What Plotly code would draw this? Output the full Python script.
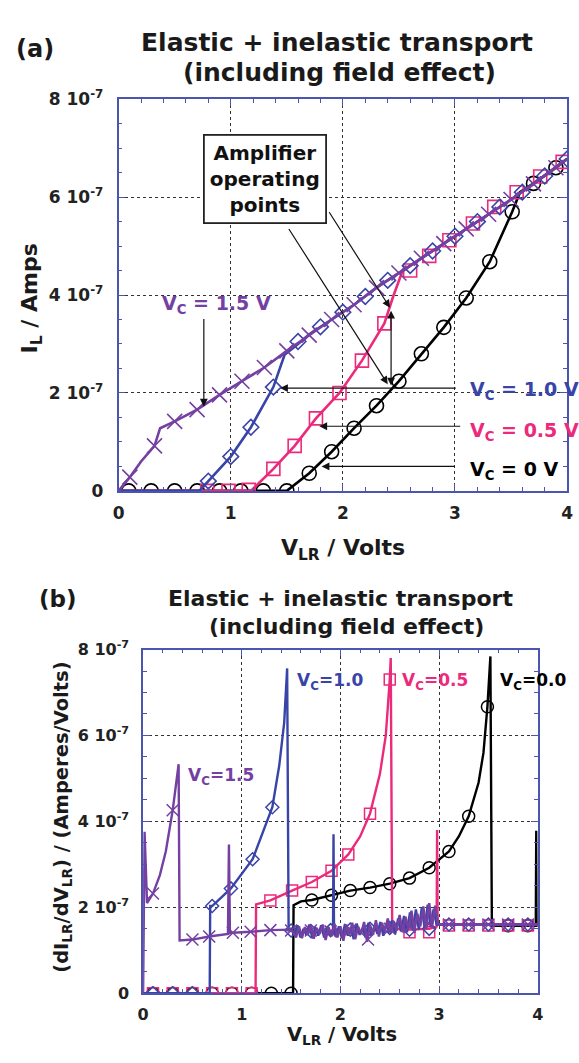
import plotly.graph_objects as go
import numpy as np

U = 1e-7  # all current / conductance values below are in units of 1e-7

# ---------------- panel (a): I_L (1e-7 A) vs V_LR (V) ----------------
a15_x = [0, 0.1, 0.2, 0.32, 0.37, 0.5, 0.7, 0.9, 1.1, 1.3, 1.5, 1.7, 1.9, 2.1, 2.3, 2.5, 2.7, 2.9, 3.1, 3.3, 3.5, 3.7, 3.9, 4.0]
a15_y = [0, 0.28, 0.6, 0.92, 1.28, 1.42, 1.66, 1.96, 2.24, 2.52, 2.86, 3.18, 3.5, 3.8, 4.15, 4.45, 4.75, 5.05, 5.35, 5.65, 5.95, 6.27, 6.6, 6.78]
a15_mx = [0.1, 0.32, 0.5, 0.7, 0.9, 1.1, 1.3, 1.5, 1.7, 1.9, 2.1, 2.3, 2.5, 2.7, 2.9, 3.1, 3.3, 3.5, 3.7, 3.9]
a15_my = [0.28, 0.92, 1.42, 1.66, 1.96, 2.24, 2.52, 2.86, 3.18, 3.5, 3.8, 4.15, 4.45, 4.75, 5.05, 5.35, 5.65, 5.95, 6.27, 6.6]

a10_x = [0, 0.72, 0.8, 1.0, 1.18, 1.38, 1.48, 1.59, 1.7, 1.9, 2.1, 2.3, 2.5, 2.7, 2.9, 3.1, 3.3, 3.5, 3.7, 3.9, 4.0]
a10_y = [0, 0, 0.2, 0.7, 1.3, 2.12, 2.78, 2.98, 3.2, 3.5, 3.8, 4.15, 4.45, 4.75, 5.05, 5.35, 5.65, 5.95, 6.27, 6.6, 6.78]
a10_mx = [0.8, 1.0, 1.18, 1.38, 1.6, 1.8, 2.0, 2.2, 2.4, 2.6, 2.8, 3.0, 3.2, 3.4, 3.6, 3.8, 4.0]
a10_my = [0.2, 0.7, 1.3, 2.12, 3.05, 3.35, 3.65, 3.97, 4.3, 4.6, 4.9, 5.2, 5.5, 5.8, 6.1, 6.43, 6.78]

a05_x = [0, 1.18, 1.38, 1.57, 1.76, 1.97, 2.17, 2.37, 2.45, 2.53, 2.7, 2.9, 3.1, 3.3, 3.5, 3.7, 3.9, 4.0]
a05_y = [0, 0, 0.45, 0.92, 1.48, 2.0, 2.66, 3.42, 3.98, 4.48, 4.75, 5.05, 5.35, 5.65, 5.95, 6.27, 6.6, 6.78]
a05_mx = [0.79, 0.98, 1.16, 1.38, 1.57, 1.76, 1.97, 2.17, 2.37, 2.6, 2.77, 2.95, 3.16, 3.35, 3.55, 3.76, 3.96]
a05_my = [0, 0, 0.02, 0.45, 0.92, 1.48, 2.0, 2.66, 3.42, 4.5, 4.8, 5.12, 5.46, 5.8, 6.1, 6.42, 6.72]

a00_x = [0, 1.5, 1.7, 1.9, 2.1, 2.3, 2.5, 2.7, 2.9, 3.1, 3.31, 3.51, 3.58, 3.7, 3.9, 4.0]
a00_y = [0, 0, 0.36, 0.8, 1.28, 1.74, 2.24, 2.8, 3.34, 3.94, 4.68, 5.7, 6.1, 6.28, 6.6, 6.78]
a00_mx = [0.09, 0.29, 0.5, 0.7, 0.9, 1.09, 1.29, 1.5, 1.7, 1.9, 2.1, 2.3, 2.5, 2.7, 2.9, 3.1, 3.31, 3.51, 3.7, 3.9]
a00_my = [0, 0, 0, 0, 0, 0, 0, 0, 0.36, 0.8, 1.28, 1.74, 2.24, 2.8, 3.34, 3.94, 4.68, 5.7, 6.28, 6.6]

# ---------------- panel (b): dI/dV (1e-7 A/V) vs V_LR (V) ----------------
b15_x = [0, 0.015, 0.04, 0.1, 0.17, 0.23, 0.3, 0.36, 0.37, 0.5, 0.67, 0.86, 0.87, 0.88, 0.91, 1.09, 1.29, 1.49,
         1.52, 1.55, 1.58, 1.61, 1.64, 1.67, 1.70, 1.73, 1.76, 1.79, 1.82, 1.85, 1.88, 1.91, 1.94, 1.97, 2.00,
         2.03, 2.06, 2.09, 2.12, 2.15, 2.18, 2.21, 2.24, 2.27, 2.30, 2.33, 2.36, 2.39, 2.42, 2.45, 2.48, 2.51,
         2.54, 2.57, 2.60, 2.63, 2.66, 2.69, 2.72, 2.75, 2.78, 2.81, 2.84, 2.87, 2.90, 2.93, 2.96, 2.99, 3.0, 4.0]
b15_y = [0, 3.76, 2.1, 2.32, 2.75, 3.3, 4.26, 5.33, 1.23, 1.25, 1.32, 1.38, 3.46, 1.40, 1.41, 1.43, 1.47, 1.48,
         1.42, 1.30, 1.56, 1.28, 1.54, 1.36, 1.60, 1.27, 1.52, 1.38, 1.60, 1.24, 1.54, 1.33, 1.62, 1.30, 1.56,
         1.22, 1.60, 1.35, 1.64, 1.26, 1.55, 1.38, 1.66, 1.20, 1.60, 1.36, 1.70, 1.32, 1.64, 1.44, 1.74, 1.40,
         1.68, 1.46, 1.82, 1.42, 1.78, 1.50, 1.92, 1.45, 1.85, 1.56, 2.02, 1.50, 2.10, 1.55, 2.04, 1.62, 1.6, 1.6]
b15_mx = [0.1, 0.3, 0.5, 0.67, 0.91, 1.09, 1.29, 1.5, 1.7, 1.9, 2.1, 2.28, 2.5, 2.7, 2.9, 3.1, 3.3, 3.5, 3.7, 3.9]
b15_my = [2.32, 4.26, 1.25, 1.32, 1.41, 1.43, 1.47, 1.46, 1.46, 1.44, 1.48, 1.25, 1.5, 1.55, 1.62, 1.6, 1.6, 1.6, 1.6, 1.6]

b10_x = [0, 0.675, 0.68, 0.7, 0.89, 1.11, 1.31, 1.38, 1.43, 1.46, 1.475, 1.49,
         1.505, 1.535, 1.565, 1.595, 1.625, 1.655, 1.685, 1.715, 1.745, 1.775, 1.805, 1.835, 1.865, 1.895,
         1.925, 1.93, 1.935,
         1.955, 1.985, 2.015, 2.045, 2.075, 2.105, 2.135, 2.165, 2.195, 2.225, 2.255, 2.285, 2.315, 2.345,
         2.375, 2.405, 2.435, 2.465, 2.495, 2.525, 2.555, 2.585, 2.615, 2.645, 2.675, 2.705, 2.735, 2.765,
         2.795, 2.825, 2.855, 2.885, 2.915, 2.945, 2.975, 3.0, 4.0]
b10_y = [0, 0, 2.03, 2.03, 2.44, 3.12, 4.33, 5.3, 6.3, 7.56, 1.46, 1.46,
         1.52, 1.34, 1.58, 1.30, 1.50, 1.36, 1.60, 1.28, 1.54, 1.34, 1.58, 1.30, 1.50, 1.38,
         1.45, 3.70, 1.45,
         1.32, 1.56, 1.28, 1.60, 1.34, 1.54, 1.26, 1.62, 1.36, 1.52, 1.30, 1.64, 1.34, 1.58,
         1.38, 1.66, 1.34, 1.62, 1.42, 1.70, 1.38, 1.74, 1.44, 1.80, 1.42, 1.88, 1.46, 1.95,
         1.48, 2.00, 1.50, 2.06, 1.54, 1.96, 1.60, 1.6, 1.6]
b10_mx = [0.1, 0.3, 0.5, 0.7, 0.89, 1.11, 1.31, 1.5, 1.7, 1.9, 2.1, 2.3, 2.5, 2.7, 2.9, 3.1, 3.3, 3.5, 3.7, 3.9]
b10_my = [0, 0, 0, 2.03, 2.44, 3.12, 4.33, 1.46, 1.45, 1.47, 1.48, 1.5, 1.52, 1.48, 1.5, 1.6, 1.6, 1.6, 1.6, 1.6]

b05_x = [0, 1.14, 1.145, 1.29, 1.51, 1.71, 1.91, 2.08, 2.2, 2.3, 2.4, 2.46, 2.5, 2.51, 2.525, 2.7, 2.9,
         2.975, 2.98, 2.985, 3.0, 4.0]
b05_y = [0, 0, 2.07, 2.16, 2.39, 2.59, 2.85, 3.23, 3.65, 4.18, 5.1, 6.0, 7.3, 7.8, 1.5, 1.48, 1.5,
         1.55, 3.8, 1.6, 1.6, 1.6]
b05_mx = [0.1, 0.3, 0.5, 0.7, 0.9, 1.1, 1.29, 1.51, 1.71, 1.91, 2.08, 2.30, 2.50, 2.70, 2.90, 3.1, 3.3, 3.5, 3.7, 3.9]
b05_my = [0, 0, 0, 0, 0, 0, 2.16, 2.39, 2.59, 2.85, 3.23, 4.18, 7.3, 1.42, 1.42, 1.58, 1.58, 1.58, 1.58, 1.58]

b00_x = [0, 1.52, 1.525, 1.6, 1.71, 1.91, 2.1, 2.3, 2.5, 2.7, 2.9, 3.1, 3.2, 3.3, 3.4, 3.45, 3.49, 3.52,
         3.535, 3.98, 3.985, 3.99, 4.0]
b00_y = [0, 0, 2.05, 2.14, 2.17, 2.28, 2.39, 2.46, 2.55, 2.68, 2.92, 3.3, 3.65, 4.12, 4.9, 5.6, 6.67, 7.84,
         1.57, 1.57, 3.78, 1.57, 1.57]
b00_mx = [0.1, 0.3, 0.5, 0.7, 0.9, 1.1, 1.3, 1.5, 1.71, 1.91, 2.1, 2.3, 2.5, 2.7, 2.9, 3.1, 3.3, 3.49, 3.7, 3.9]
b00_my = [0, 0, 0, 0, 0, 0, 0, 0, 2.17, 2.28, 2.39, 2.46, 2.55, 2.68, 2.92, 3.3, 4.12, 6.67, 1.57, 1.57]

x_ticks = [0, 1, 2, 3, 4]
y_tick_mult = [0, 2, 4, 6, 8]
y_tick_text = ["0", "2 10<sup>-7</sup>", "4 10<sup>-7</sup>", "6 10<sup>-7</sup>", "8 10<sup>-7</sup>"]

# ---------------- style ----------------
PURPLE = "#7440a2"
BLUE = "#3944a8"
PINK = "#ec2a7c"
BLACK = "#000000"
AXC = "#4a56ae"
FONT = "DejaVu Sans"
W, H = 579, 1063


def px(xp):
    return xp / W


def py(yp):
    return 1 - yp / H


fig = go.Figure()

series_a = [
    (a00_x, a00_y, a00_mx, a00_my, BLACK, "circle-open", 14),
    (a05_x, a05_y, a05_mx, a05_my, PINK, "square-open", 13),
    (a10_x, a10_y, a10_mx, a10_my, BLUE, "diamond-open", 12),
    (a15_x, a15_y, a15_mx, a15_my, PURPLE, "x-thin-open", 15),
]
for lx, ly, mx, my, col, sym, sz in series_a:
    fig.add_trace(go.Scatter(x=lx, y=np.array(ly) * U, mode="lines", xaxis="x", yaxis="y",
                             line=dict(color=col, width=2.6), showlegend=False, hoverinfo="skip"))
    fig.add_trace(go.Scatter(x=mx, y=np.array(my) * U, mode="markers", xaxis="x", yaxis="y",
                             marker=dict(symbol=sym, size=sz, color=col, line=dict(color=col, width=1.6)),
                             showlegend=False))

series_b = [
    (b00_x, b00_y, b00_mx, b00_my, BLACK, "circle-open", 12),
    (b05_x, b05_y, b05_mx, b05_my, PINK, "square-open", 11),
    (b10_x, b10_y, b10_mx, b10_my, BLUE, "diamond-open", 10),
    (b15_x, b15_y, b15_mx, b15_my, PURPLE, "x-thin-open", 12),
]
for lx, ly, mx, my, col, sym, sz in series_b:
    fig.add_trace(go.Scatter(x=lx, y=np.array(ly) * U, mode="lines", xaxis="x2", yaxis="y2",
                             line=dict(color=col, width=2.4), showlegend=False, hoverinfo="skip"))
    fig.add_trace(go.Scatter(x=mx, y=np.array(my) * U, mode="markers", xaxis="x2", yaxis="y2",
                             marker=dict(symbol=sym, size=sz, color=col, line=dict(color=col, width=1.5)),
                             showlegend=False))


def axis_common(tick_size, standoff):
    return dict(
        showline=True, linecolor=AXC, linewidth=1.6, mirror="ticks",
        ticks="inside", ticklen=7, tickwidth=1.3, tickcolor=AXC,
        showgrid=True, gridcolor="#333333", griddash="dot", gridwidth=1,
        zeroline=False, ticklabelstandoff=standoff,
        tickfont=dict(family=FONT, size=tick_size, color="#222", weight="bold"),
    )


yvals = [v * U for v in y_tick_mult]

fig.update_layout(
    width=W, height=H, margin=dict(l=0, r=0, t=0, b=0),
    paper_bgcolor="white", plot_bgcolor="white",
    xaxis=dict(domain=[px(115), px(573)], anchor="y", range=[0, 4], tickvals=x_ticks,
               minor=dict(dtick=0.2, ticks="inside", ticklen=4, tickcolor=AXC, showgrid=False),
               **axis_common(17, 6)),
    yaxis=dict(domain=[py(489), py(89)], anchor="x", range=[0, 8 * U], tickvals=yvals, ticktext=y_tick_text,
               minor=dict(dtick=0.5 * U, ticks="inside", ticklen=4, tickcolor=AXC, showgrid=False),
               **axis_common(17, 10)),
    xaxis2=dict(domain=[px(140), px(543)], anchor="y2", range=[0, 4], tickvals=x_ticks,
                minor=dict(dtick=0.2, ticks="inside", ticklen=4, tickcolor=AXC, showgrid=False),
                **axis_common(16, 6)),
    yaxis2=dict(domain=[py(1002), py(651)], anchor="x2", range=[0, 8 * U], tickvals=yvals, ticktext=y_tick_text,
                minor=dict(dtick=0.5 * U, ticks="inside", ticklen=4, tickcolor=AXC, showgrid=False),
                **axis_common(16, 9)),
)

ann = []


def text_ann(x, y, text, size, color="#1a1a1a", xanchor="center", angle=0, xref="paper", yref="paper"):
    ann.append(dict(x=x, y=y, xref=xref, yref=yref, text=text, showarrow=False, xanchor=xanchor,
                    yanchor="middle", textangle=angle,
                    font=dict(family=FONT, size=size, color=color, weight="bold")))


# titles and panel letters
text_ann(px(30), py(38), "(a)", 24)
text_ann(px(338), py(31), "Elastic + inelastic transport", 25)
text_ann(px(341), py(62), "(including field effect)", 25)
text_ann(px(53), py(599), "(b)", 23)
text_ann(px(342), py(599), "Elastic + inelastic transport", 22)
text_ann(px(348), py(627), "(including field effect)", 22)

# axis titles
text_ann(px(27), py(292), "I<sub>L</sub> / Amps", 22, angle=-90)
text_ann(px(344), py(549), "V<sub>LR</sub> / Volts", 22)
text_ann(px(58), py(822), "(dI<sub>LR</sub>/dV<sub>LR</sub>) / (Amperes/Volts)", 19.5, angle=-90)
text_ann(px(343), py(1045), "V<sub>LR</sub> / Volts", 19.5)

# panel (a) labels
text_ann(0.37, 3.8 * U, "V<sub>C</sub> = 1.5 V", 19, color=PURPLE, xanchor="left", xref="x", yref="y")
text_ann(3.12, 2.06 * U, "V<sub>C</sub> = 1.0 V", 19, color=BLUE, xanchor="left", xref="x", yref="y")
text_ann(3.12, 1.22 * U, "V<sub>C</sub> = 0.5 V", 19, color=PINK, xanchor="left", xref="x", yref="y")
text_ann(3.12, 0.42 * U, "V<sub>C</sub> = 0 V", 19, color=BLACK, xanchor="left", xref="x", yref="y")

# panel (b) labels
text_ann(0.43, 5.05 * U, "V<sub>C</sub>=1.5", 17, color=PURPLE, xanchor="left", xref="x2", yref="y2")
text_ann(1.54, 7.25 * U, "V<sub>C</sub>=1.0", 17, color=BLUE, xanchor="left", xref="x2", yref="y2")
text_ann(2.6, 7.25 * U, "V<sub>C</sub>=0.5", 17, color=PINK, xanchor="left", xref="x2", yref="y2")
text_ann(3.6, 7.25 * U, "V<sub>C</sub>=0.0", 17, color=BLACK, xanchor="left", xref="x2", yref="y2")

# boxed note
ann.append(dict(x=1.305, y=6.36 * U, xref="x", yref="y", text="Amplifier<br>operating<br>points",
                showarrow=False, xanchor="center", yanchor="middle", align="center",
                bordercolor="#222", borderwidth=1.8, borderpad=5, bgcolor="white",
                font=dict(family=FONT, size=20, color="#111", weight="bold")))


def arrow(x, y, ax, ay, side="end", head=2, xref="x", yref="y"):
    ann.append(dict(x=x, y=y, ax=ax, ay=ay, xref=xref, yref=yref, axref=xref, ayref=yref,
                    showarrow=True, arrowhead=head, arrowsize=1.3, arrowwidth=1.2, arrowcolor="#111",
                    arrowside=side, startarrowhead=head, startarrowsize=1.3, text=""))


arrow(2.42, 3.74 * U, 1.87, 5.72 * U)
arrow(2.40, 2.18 * U, 1.51, 5.38 * U)
arrow(2.43, 3.68 * U, 2.43, 2.12 * U, side="end+start")
arrow(0.76, 1.72 * U, 0.76, 3.54 * U)
arrow(1.44, 2.1 * U, 3.02, 2.1 * U)
arrow(1.79, 1.32 * U, 3.06, 1.32 * U)
arrow(1.81, 0.5 * U, 3.01, 0.5 * U)

fig.update_layout(annotations=ann)
fig.write_html("out.html")
